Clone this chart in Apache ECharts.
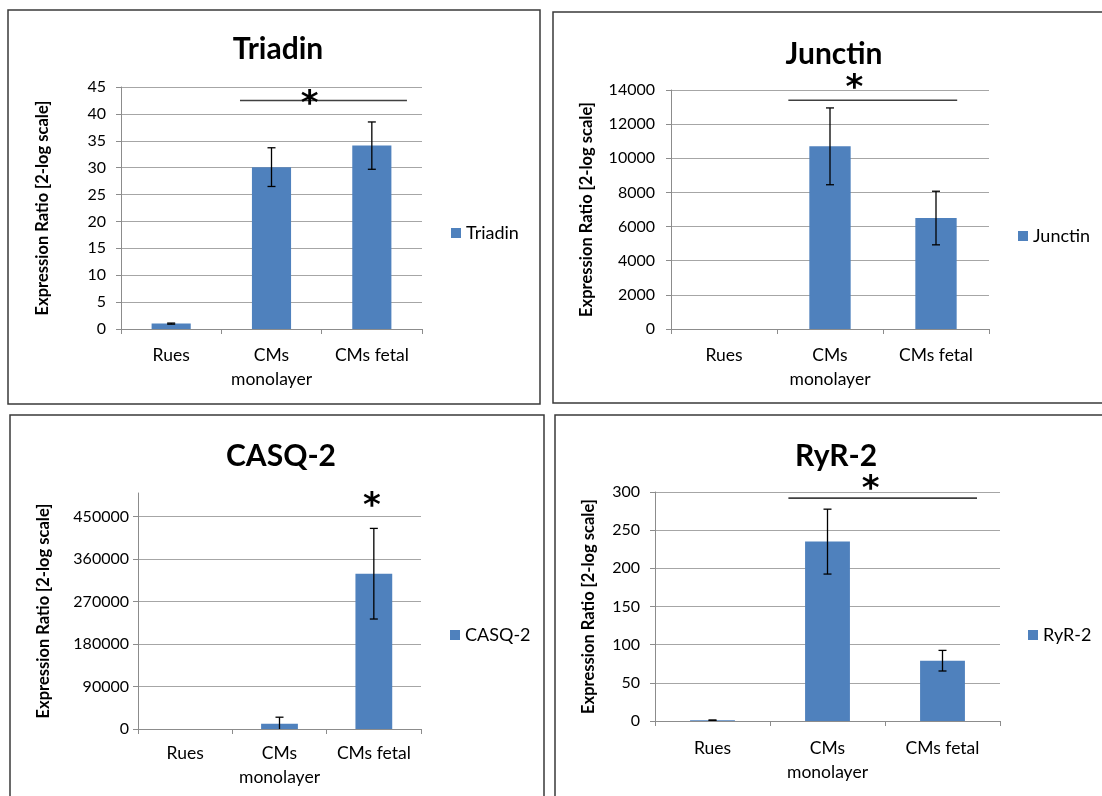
<!DOCTYPE html>
<html>
<head>
<meta charset="utf-8">
<script src="https://cdn.jsdelivr.net/npm/echarts@6/dist/echarts.min.js"></script>
<style>
  html, body { margin: 0; padding: 0; background: #ffffff; }
  #chart { width: 1102px; height: 796px; }
</style>
</head>
<body>
<div id="chart"></div>
<script>
// ---- data -------------------------------------------------------------
const categories = ['Rues', 'CMs monolayer', 'CMs fetal'];

const triadinValues = [1.0, 30.1, 34.1];
const triadinErrors = [0.1, 3.6, 4.4];

const junctinValues = [1, 10700, 6500];
const junctinErrors = [0, 2250, 1570];

const casqValues = [1, 11000, 329000];
const casqErrors = [0, 14000, 96000];

const ryrValues = [1, 235, 79];
const ryrErrors = [0.3, 42.5, 13.5];

// y-axis tick labels
const triadinTicks = [0, 5, 10, 15, 20, 25, 30, 35, 40, 45];
const junctinTicks = [0, 2000, 4000, 6000, 8000, 10000, 12000, 14000];
const casqTicks = [0, 90000, 180000, 270000, 360000, 450000];
const ryrTicks = [0, 50, 100, 150, 200, 250, 300];

// axis maxima
const axisMax = [45, 14000, 500000, 300];

// significance brackets [from, to, level] in category units (0 = first category centre)
const triadinBracket = [0.686, 2.35, 42.5];
const junctinBracket = [0.607, 2.20, 13400];
const ryrBracket = [0.66, 2.30, 292];

// significance stars [x, y]
const triadinStar = [1.38, 43.0];
const junctinStar = [1.23, 14470];
const casqStar = [1.98, 484000];
const ryrStar = [1.375, 312];

// ---- layout -------------------------------------------------------------
const FONT = 'Lato, "Open Sans", "DejaVu Sans", sans-serif';
const STAR_FONT = '"DejaVu Sans", sans-serif';
const BLUE = '#4F81BD';
const AXIS = '#8c8c8c';
const GRID = '#a6a6a6';

const panels = [
  { name: 'Triadin', values: triadinValues, errors: triadinErrors, ticks: triadinTicks,
    bracket: triadinBracket, star: triadinStar,
    grid: { left: 121, top: 87, width: 301, height: 242 },
    title: [273, 44], legend: [451, 234], nameGap: 70, labelMargin: 15, xMargin: 14 },
  { name: 'Junctin', values: junctinValues, errors: junctinErrors, ticks: junctinTicks,
    bracket: junctinBracket, star: junctinStar,
    grid: { left: 671, top: 90, width: 318, height: 239 },
    title: [829, 49], legend: [1018, 237], nameGap: 76, labelMargin: 16, xMargin: 14 },
  { name: 'CASQ-2', values: casqValues, errors: casqErrors, ticks: casqTicks,
    bracket: null, star: casqStar,
    grid: { left: 138, top: 493, width: 283, height: 236 },
    title: [276, 451], legend: [450, 636], nameGap: 86, labelMargin: 9, xMargin: 12 },
  { name: 'RyR-2', values: ryrValues, errors: ryrErrors, ticks: ryrTicks,
    bracket: ryrBracket, star: ryrStar,
    grid: { left: 655, top: 492, width: 345, height: 229 },
    title: [831, 451], legend: [1028, 636], nameGap: 58, labelMargin: 15, xMargin: 15 }
];

// ---- error bars ---------------------------------------------------------
function renderErrorBar(params, api) {
  const idx = api.value(0);
  const lo = api.coord([idx, api.value(1)]);
  const hi = api.coord([idx, api.value(2)]);
  const cap = 4;
  const style = { stroke: '#000000', lineWidth: 1.3 };
  return {
    type: 'group',
    children: [
      { type: 'line', shape: { x1: hi[0], y1: hi[1], x2: lo[0], y2: lo[1] }, style: style },
      { type: 'line', shape: { x1: hi[0] - cap, y1: hi[1], x2: hi[0] + cap, y2: hi[1] }, style: style },
      { type: 'line', shape: { x1: lo[0] - cap, y1: lo[1], x2: lo[0] + cap, y2: lo[1] }, style: style }
    ]
  };
}

// ---- option ---------------------------------------------------------------
const option = {
  backgroundColor: '#ffffff',
  animation: false,
  title: [],
  legend: [],
  grid: [],
  xAxis: [],
  yAxis: [],
  series: [],
  graphic: [
    { type: 'rect', shape: { x: 8, y: 10, width: 532, height: 394 },
      style: { fill: 'none', stroke: '#3a3a3a', lineWidth: 1.5 } },
    { type: 'rect', shape: { x: 553, y: 12, width: 560, height: 391 },
      style: { fill: 'none', stroke: '#3a3a3a', lineWidth: 1.5 } },
    { type: 'rect', shape: { x: 10, y: 415, width: 534, height: 400 },
      style: { fill: 'none', stroke: '#3a3a3a', lineWidth: 1.5 } },
    { type: 'rect', shape: { x: 555, y: 415, width: 560, height: 400 },
      style: { fill: 'none', stroke: '#3a3a3a', lineWidth: 1.5 } }
  ]
};

panels.forEach(function (p, k) {
  option.title.push({
    text: p.name,
    left: p.title[0], top: p.title[1],
    textAlign: 'center', textVerticalAlign: 'middle',
    textStyle: { fontFamily: FONT, fontSize: 30, fontWeight: 'bold', color: '#000000' }
  });
  option.legend.push({
    data: [p.name],
    left: p.legend[0], top: p.legend[1] - 10,
    itemWidth: 10, itemHeight: 10, itemGap: 5,
    icon: 'rect',
    textStyle: { fontFamily: FONT, fontSize: 18, color: '#000000' },
    padding: 0
  });
  option.grid.push(Object.assign({ containLabel: false, outerBoundsMode: 'none' }, p.grid));

  // visible category axis
  option.xAxis.push({
    type: 'category', gridIndex: k, data: categories,
    axisLine: { onZero: false, lineStyle: { color: AXIS, width: 1 } },
    axisTick: { show: true, length: 5, lineStyle: { color: AXIS } },
    axisLabel: {
      fontFamily: FONT, fontSize: 17.5, color: '#000000', margin: p.xMargin,
      lineHeight: 24, interval: 0,
      formatter: function (v) { return v === 'CMs monolayer' ? 'CMs\nmonolayer' : v; }
    },
    splitLine: { show: false }
  });
  // hidden value axis used for bracket and star positions
  option.xAxis.push({
    type: 'value', gridIndex: k, min: -0.5, max: 2.5, show: false
  });

  option.yAxis.push({
    type: 'value', gridIndex: k, min: 0, max: axisMax[k],
    name: 'Expression Ratio [2-log scale]',
    nameLocation: 'middle', nameRotate: 90, nameGap: p.nameGap,
    nameTextStyle: { fontFamily: FONT, fontSize: 16.5, fontWeight: 'bold', color: '#000000' },
    axisLine: { show: true, onZero: false, lineStyle: { color: AXIS, width: 1 } },
    axisTick: { show: true, length: 5, lineStyle: { color: AXIS }, customValues: p.ticks },
    axisLabel: { fontFamily: FONT, fontSize: 16, color: '#000000', margin: p.labelMargin,
      customValues: p.ticks,
      formatter: function (v) { return String(v); } },
    splitLine: { show: true, lineStyle: { color: GRID, width: 1 } }
  });

  const xCat = 2 * k, xVal = 2 * k + 1;

  option.series.push({
    name: p.name, type: 'bar',
    xAxisIndex: xCat, yAxisIndex: k,
    data: p.values, barWidth: '39%',
    itemStyle: { color: BLUE }
  });

  const errData = [];
  p.values.forEach(function (v, i) {
    if (p.errors[i] > 0) errData.push([i, v - p.errors[i], v + p.errors[i]]);
  });
  option.series.push({
    name: p.name + ' error', type: 'custom',
    xAxisIndex: xCat, yAxisIndex: k,
    renderItem: renderErrorBar, data: errData, clip: true, z: 5
  });

  if (p.bracket) {
    option.series.push({
      name: p.name + ' bracket', type: 'line',
      xAxisIndex: xVal, yAxisIndex: k,
      data: [[p.bracket[0], p.bracket[2]], [p.bracket[1], p.bracket[2]]],
      symbol: 'none', lineStyle: { color: '#404040', width: 1.6 }, z: 6
    });
  }
  option.series.push({
    name: p.name + ' star', type: 'scatter',
    xAxisIndex: xVal, yAxisIndex: k,
    data: [p.star], symbolSize: 0, clip: false, z: 7,
    itemStyle: { opacity: 1 },
    label: {
      show: true, position: 'inside', formatter: '*', opacity: 1,
      fontFamily: STAR_FONT, fontSize: 34, fontWeight: 'bold', color: '#000000',
      offset: [0, 7]
    }
  });
});

const chart = echarts.init(document.getElementById('chart'), null, { renderer: 'canvas' });
chart.setOption(option);
</script>
</body>
</html>
